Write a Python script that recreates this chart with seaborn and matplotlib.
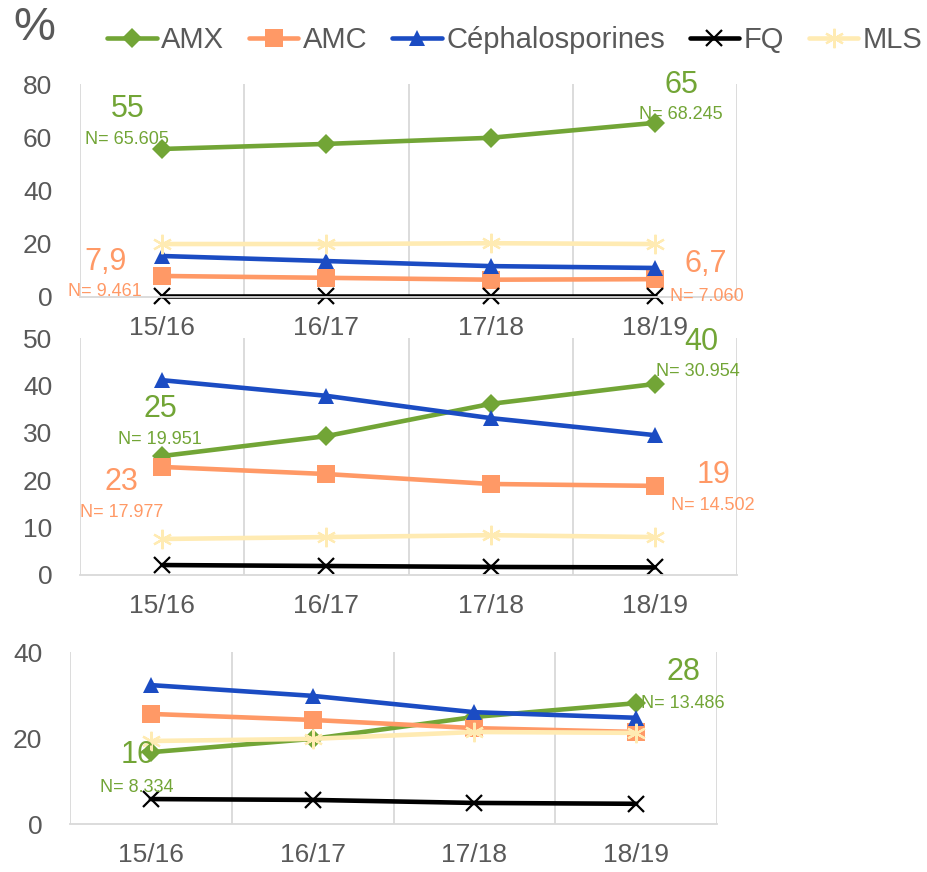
"""
plot.py
-------
Three stacked panels: share of antibiotic classes per season (15/16 -> 18/19).
"""

import numpy as np
import matplotlib
matplotlib.use("Agg")
import matplotlib.pyplot as plt
import seaborn as sns

# ─── Data ────────────────────────────────────────────────────────────────────
SEASONS = ["15/16", "16/17", "17/18", "18/19"]
DRUGS   = ["AMX", "AMC", "Céphalosporines", "FQ", "MLS"]

# top panel
top_amx  = [55.6, 57.5, 59.8, 65.4]
top_amc  = [7.9, 7.2, 6.5, 6.7]
top_ceph = [15.4, 13.5, 11.6, 10.9]
top_fq   = [0.3, 0.3, 0.3, 0.3]
top_mls  = [19.9, 19.9, 20.2, 19.9]

# middle panel
mid_amx  = [25.1, 29.3, 36.1, 40.3]
mid_amc  = [22.8, 21.3, 19.2, 18.8]
mid_ceph = [41.1, 37.8, 33.1, 29.5]
mid_fq   = [2.1, 1.9, 1.7, 1.6]
mid_mls  = [7.6, 8.0, 8.4, 8.0]

# bottom panel
bot_amx  = [16.7, 19.8, 24.9, 28.1]
bot_amc  = [25.6, 24.2, 22.3, 21.4]
bot_ceph = [32.3, 29.8, 26.0, 24.7]
bot_fq   = [5.8, 5.6, 4.9, 4.7]
bot_mls  = [19.3, 19.8, 21.4, 21.2]

# value labels : (series, season index, value text, N text)
top_labels = [("AMX", 0, "55", "N= 65.605"), ("AMC", 0, "7,9", "N= 9.461"),
              ("AMX", 3, "65", "N= 68.245"), ("AMC", 3, "6,7", "N= 7.060")]
mid_labels = [("AMX", 0, "25", "N= 19.951"), ("AMC", 0, "23", "N= 17.977"),
              ("AMX", 3, "40", "N= 30.954"), ("AMC", 3, "19", "N= 14.502")]
bot_labels = [("AMX", 0, "16", "N= 8.334"), ("AMX", 3, "28", "N= 13.486")]

# ─── Style ───────────────────────────────────────────────────────────────────
COLORS  = {"AMX": "#72A536", "AMC": "#FF9966", "Céphalosporines": "#1B4CC3",
           "FQ": "#000000", "MLS": "#FFEBB3"}
MARKERS = {"AMX": "D", "AMC": "s", "Céphalosporines": "^", "FQ": "x", "MLS": (6, 2, 0)}
MSIZE   = {"AMX": 10, "AMC": 13, "Céphalosporines": 12, "FQ": 11, "MLS": 14}
GREY    = "#595959"
GRID    = "#D9D9D9"

sns.set_theme(style="white")
plt.rcParams["font.family"] = ["Liberation Sans", "DejaVu Sans"]

# label offsets in pixels (dx, dy) for value / N text, relative to the point
LABEL_OFFSETS = {
    "top": [((-34, 40), (-35, 9)), ((-57, 14), (-57, -16)),
            ((27, 38), (26, 8)), ((51, 15), (52, -17))],
    "mid": [((-2, 47), (-2, 17)), ((-41, -15), (-41, -46)),
            ((46, 42), (43, 12)), ((59, 11), (58, -20))],
    "bot": [((-13, -3), (-14, -35)), ((47, 31), (47, 0))],
}


def draw_panel(ax, series, ymax, ystep, labels, offsets):
    x = np.arange(len(SEASONS))
    for name, vals in zip(DRUGS, series):
        col = COLORS[name]
        sns.lineplot(x=x, y=vals, ax=ax, color=col, lw=3.3,
                     marker=MARKERS[name], markersize=MSIZE[name],
                     mec=col, mfc=col, mew=1.6 if name in ("FQ", "MLS") else 0,
                     label=name, legend=False, clip_on=False)

    ax.set_xlim(-0.5, len(SEASONS) - 0.5)
    ax.set_ylim(0, ymax)
    ax.set_xticks(x)
    ax.set_xticklabels(SEASONS)
    ax.set_yticks(np.arange(0, ymax + 1, ystep))
    ax.set_xticks(np.arange(-0.5, len(SEASONS)), minor=True)
    ax.grid(which="minor", axis="x", color=GRID, lw=1.3)
    ax.grid(which="major", visible=False)
    ax.tick_params(which="both", length=0)
    ax.tick_params(axis="x", pad=14, labelsize=19, labelcolor=GREY)
    ax.tick_params(axis="y", pad=20, labelsize=19, labelcolor=GREY)
    for side in ("top", "right", "left"):
        ax.spines[side].set_visible(False)
    ax.spines["bottom"].set_color(GRID)
    ax.spines["bottom"].set_linewidth(1.3)

    lookup = dict(zip(DRUGS, series))
    for (name, idx, val_txt, n_txt), (off_v, off_n) in zip(labels, offsets):
        yv = lookup[name][idx]
        col = COLORS[name]
        ax.annotate(val_txt, xy=(idx, yv), xytext=(off_v[0] * 0.72, off_v[1] * 0.72),
                    textcoords="offset points", ha="center", va="center",
                    color=col, fontsize=22, annotation_clip=False)
        ax.annotate(n_txt, xy=(idx, yv), xytext=(off_n[0] * 0.72, off_n[1] * 0.72),
                    textcoords="offset points", ha="center", va="center",
                    color=col, fontsize=13, annotation_clip=False)


# ─── Figure ──────────────────────────────────────────────────────────────────
W, H = 928, 872
fig = plt.figure(figsize=(W / 100, H / 100), dpi=100)


def px_axes(left, top, right, bottom):
    return fig.add_axes([left / W, 1 - bottom / H, (right - left) / W, (bottom - top) / H])


ax_top = px_axes(80, 84, 737, 297)
ax_mid = px_axes(80, 338, 737, 575)
ax_bot = px_axes(70, 652, 717, 824)

draw_panel(ax_top, [top_amx, top_amc, top_ceph, top_fq, top_mls], 80, 20,
           top_labels, LABEL_OFFSETS["top"])
draw_panel(ax_mid, [mid_amx, mid_amc, mid_ceph, mid_fq, mid_mls], 50, 10,
           mid_labels, LABEL_OFFSETS["mid"])
draw_panel(ax_bot, [bot_amx, bot_amc, bot_ceph, bot_fq, bot_mls], 40, 20,
           bot_labels, LABEL_OFFSETS["bot"])

handles, labs = ax_top.get_legend_handles_labels()
fig.legend(handles, labs, loc="center left", bbox_to_anchor=(107 / W, 1 - 40 / H),
           ncol=5, frameon=False, fontsize=21, labelcolor=GREY,
           handlelength=1.7, handletextpad=0.15, columnspacing=0.85,
           borderaxespad=0, borderpad=0)
fig.text(13 / W, 1 - 28 / H, "%", fontsize=34, color=GREY, ha="left", va="center")

fig.savefig("out.png", dpi=100)
plt.close(fig)
